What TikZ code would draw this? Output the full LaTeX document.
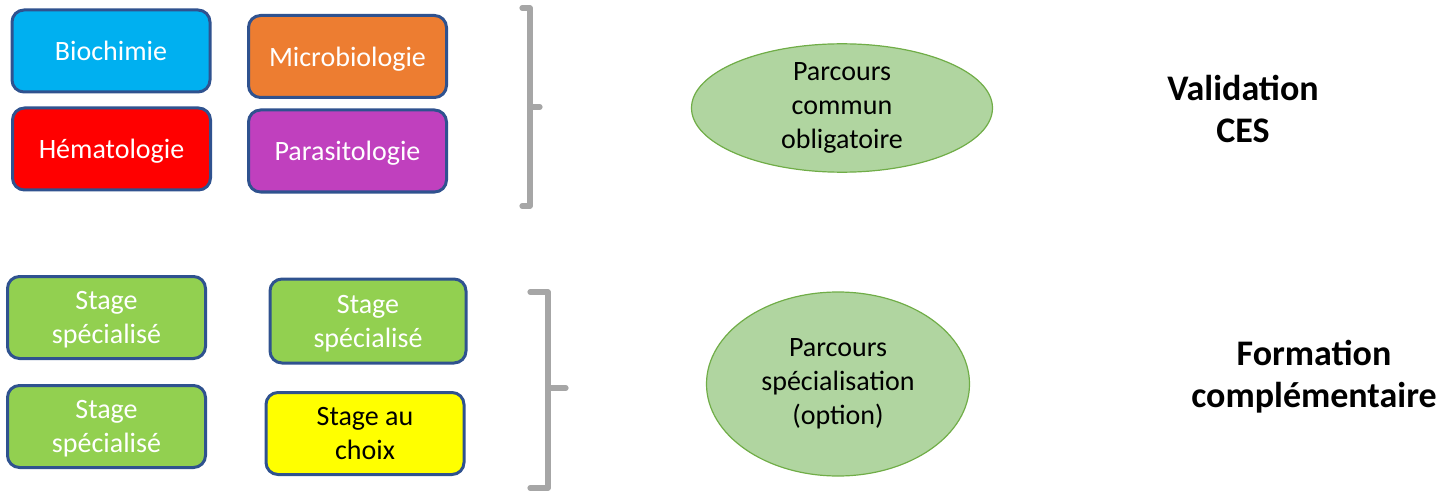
\documentclass[tikz,border=0pt]{standalone}
\usepackage{fontspec}
\setmainfont{Carlito}
\definecolor{bleu}{HTML}{00B0F0}
\definecolor{orange}{HTML}{ED7D31}
\definecolor{rouge}{HTML}{FF0000}
\definecolor{violet}{HTML}{C040BE}
\definecolor{vert}{HTML}{92D050}
\definecolor{jaune}{HTML}{FFFF00}
\definecolor{bord}{HTML}{2F528F}
\definecolor{ovale}{HTML}{B0D5A0}
\definecolor{ovalebord}{HTML}{70AD47}
\definecolor{crochet}{HTML}{A6A6A6}
\tikzset{
	case/.style={draw=bord, line width=1.5pt, rounded corners=6pt, minimum width=99pt, minimum height=41pt, align=center, text=white, text depth=0pt},
	bulle/.style={ellipse, draw=ovalebord, line width=0.6pt, fill=ovale, inner sep=0pt, align=center},
	titre/.style={font=\fontsize{18}{21}\selectfont\bfseries, align=center},
	crochet/.style={draw=crochet, line width=2.6pt, line join=round}
}
\usetikzlibrary{shapes.geometric}
\begin{document}
\begin{tikzpicture}[x=0.5pt, y=-0.5pt, font=\fontsize{14}{17}\selectfont, line join=round, line cap=round]
			\useasboundingbox (0,0) rectangle (1441,492);
			\node[case, fill=bleu] (bio) at (111,51) {Biochimie};
			\node[case, fill=orange] (micro) at (347.5,56.5) {Microbiologie};
			\node[case, fill=rouge] (hema) at (111.5,149) {Hématologie};
			\node[case, fill=violet] (para) at (347.5,151) {Parasitologie};
			\node[case, fill=vert] (stA) at (106.5,317.5) {Stage\\spécialisé};
			\node[case, fill=vert, minimum width=98pt, minimum height=42pt] (stB) at (368,321) {Stage\\spécialisé};
			\node[case, fill=vert] (stC) at (106.5,426.5) {Stage\\spécialisé};
			\node[case, fill=jaune, text=black] (choix) at (365,433.5) {Stage au\\choix};
			\draw[crochet] (522,8)--(530,8)--(530,206)--(522,206) (530,107)--(540,107);
			\draw[crochet] (530,292)--(548,292)--(548,488)--(530,488) (548,388)--(566,388);
			\node[bulle, minimum width=150.5pt, minimum height=58pt] (commun) at (842,108) {Parcours\\commun\\obligatoire};
			\node[bulle, minimum width=131.5pt, minimum height=92pt] (specia) at (838,384) {Parcours\\spécialisation\\(option)};
			\node[titre] (ces) at (1243,109) {Validation\\CES};
			\node[titre] (formation) at (1314,377) {Formation\\complémentaire};
	\end{tikzpicture}
\end{document}
